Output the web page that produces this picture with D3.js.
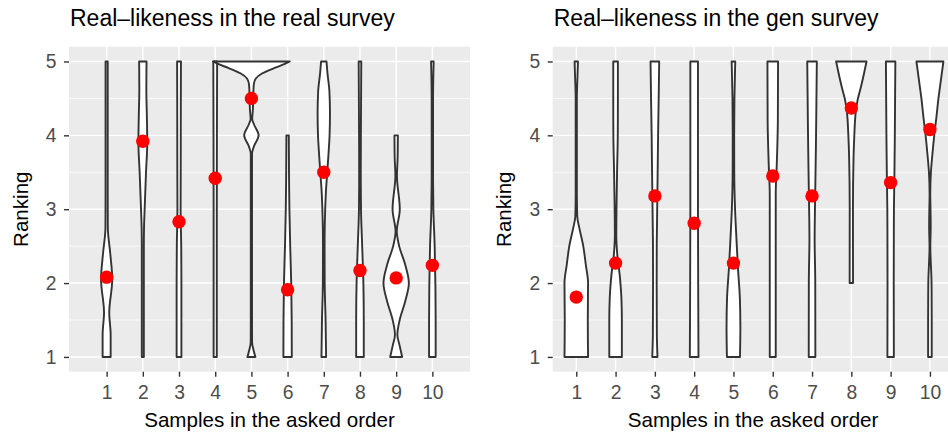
<!DOCTYPE html>
<html>
<head>
<meta charset="utf-8">
<script src="https://cdn.jsdelivr.net/npm/d3@7"></script>
<style>
  body { margin: 0; background: #fff; }
  svg { display: block; }
  text { font-family: "Liberation Sans", Arial, Helvetica, sans-serif; }
</style>
</head>
<body>
<svg id="chart" width="948" height="434"></svg>
<script>
// Sample positions and rating scale
const samples = [1, 2, 3, 4, 5, 6, 7, 8, 9, 10];
const rankTicks = [1, 2, 3, 4, 5];
const rankMinor = [1.5, 2.5, 3.5, 4.5];

// Mean ranking per sample
const realMeans = [2.08, 3.92, 2.83, 3.42, 4.50, 1.91, 3.50, 2.17, 2.07, 2.24];
const genMeans  = [1.81, 2.27, 3.18, 2.81, 2.27, 3.45, 3.18, 4.37, 3.36, 4.08];

// Violin outlines: [ranking, half-width in sample-step units]
const realShapes = [
  [[1,0.111],[1.3,0.111],[1.6,0.072],[2.05,0.155],[2.4,0.1],[2.75,0.033],[3.2,0.03],[5,0.03]],
  [[1,0.028],[2.5,0.028],[2.75,0.033],[3,0.05],[3.5,0.088],[3.9,0.122],[4.3,0.11],[4.6,0.097],[5,0.102]],
  [[1,0.066],[2,0.066],[2.5,0.061],[3,0.044],[3.5,0.047],[4.5,0.05],[5,0.053]],
  [[1,0.044],[3,0.044],[4,0.047],[5,0.053]],
  [[1,0.111],[1.1,0.055],[1.2,0.019],[1.5,0.017],[3.75,0.017],[3.85,0.069],[4,0.2],[4.15,0.069],[4.22,0.022],
   [4.35,0.041],[4.6,0.055],[4.7,0.069],[4.77,0.122],[4.84,0.304],[4.91,0.627],[4.97,0.94],[5,1.06]],
  [[1,0.116],[1.5,0.113],[2,0.1],[2.5,0.072],[3,0.05],[3.5,0.039],[4,0.033]],
  [[1,0.064],[1.5,0.05],[2,0.025],[2.5,0.022],[2.8,0.028],[3.2,0.055],[3.6,0.11],[4,0.16],[4.3,0.171],
   [4.6,0.155],[4.85,0.1],[5,0.075]],
  [[1,0.105],[1.5,0.105],[2,0.094],[2.5,0.061],[3,0.028],[3.5,0.022],[4,0.025],[5,0.036]],
  [[1,0.166],[1.15,0.097],[1.3,0.033],[1.5,0.097],[1.75,0.249],[2,0.351],[2.25,0.249],[2.5,0.083],
   [2.7,0.017],[3,0.1],[3.45,0.022],[3.7,0.041],[4,0.047]],
  [[1,0.091],[1.5,0.091],[2,0.083],[2.5,0.064],[3,0.028],[3.5,0.019],[4.5,0.019],[5,0.036]]
];
const genShapes = [
  [[1,0.3],[1.5,0.293],[2,0.3],[2.25,0.242],[2.5,0.178],[2.75,0.076],[2.9,0.025],[3.2,0.015],[4.5,0.015],
   [4.75,0.028],[5,0.043]],
  [[1,0.16],[1.5,0.16],[1.8,0.148],[2.1,0.107],[2.4,0.041],[2.65,0.018],[3,0.023],[3.5,0.038],[4,0.056],
   [4.5,0.059],[5,0.059]],
  [[1,0.066],[1.3,0.051],[2,0.046],[2.5,0.048],[3,0.059],[3.5,0.071],[4,0.082],[4.5,0.097],[5,0.11]],
  [[1,0.11],[2,0.102],[3,0.097],[4,0.097],[5,0.097]],
  [[1,0.166],[1.4,0.176],[1.8,0.163],[2.2,0.115],[2.6,0.076],[3,0.041],[3.5,0.02],[4,0.018],[4.5,0.025],
   [5,0.046]],
  [[1,0.076],[3.2,0.076],[3.6,0.102],[4.2,0.13],[5,0.135]],
  [[1,0.084],[2,0.082],[2.6,0.066],[3,0.074],[3.5,0.089],[4,0.102],[4.5,0.112],[5,0.122]],
  [[2,0.043],[3,0.041],[3.7,0.056],[4,0.076],[4.3,0.11],[4.48,0.16],[4.66,0.247],[4.84,0.324],[5,0.387]],
  [[1,0.082],[2,0.079],[3,0.084],[3.5,0.097],[4,0.107],[5,0.12]],
  [[1,0.046],[1.5,0.046],[2,0.041],[2.5,0.01],[2.75,0.02],[3,0.015],[3.2,0.008],[3.5,0.025],[3.75,0.064],
   [4,0.11],[4.25,0.166],[4.5,0.217],[4.75,0.28],[5,0.344]]
];

const panels = [
  { title: "Real\u2013likeness in the real survey", means: realMeans, shapes: realShapes,
    left: 69, right: 470, padding: 1.04, yTitleX: 27.5 },
  { title: "Real\u2013likeness in the gen survey", means: genMeans, shapes: genShapes,
    left: 552.7, right: 953.5, padding: 0.6, yTitleX: 511 }
];

const panelTop = 46.7, panelBottom = 371.7;
const svg = d3.select("#chart");

const y = d3.scaleLinear().domain([0.8, 5.2]).range([panelBottom, panelTop]);

panels.forEach(p => {
  const x = d3.scalePoint().domain(samples).range([p.left, p.right]).padding(p.padding);
  const step = x.step();
  const g = svg.append("g");

  // panel background
  g.append("rect")
    .attr("x", p.left).attr("y", panelTop)
    .attr("width", p.right - p.left).attr("height", panelBottom - panelTop)
    .attr("fill", "#EBEBEB");

  // grid
  g.append("g").selectAll("line").data(rankMinor).join("line")
    .attr("x1", p.left).attr("x2", p.right)
    .attr("y1", d => y(d)).attr("y2", d => y(d))
    .attr("stroke", "#fff").attr("stroke-width", 0.7);
  g.append("g").selectAll("line").data(rankTicks).join("line")
    .attr("x1", p.left).attr("x2", p.right)
    .attr("y1", d => y(d)).attr("y2", d => y(d))
    .attr("stroke", "#fff").attr("stroke-width", 1.4);
  g.append("g").selectAll("line").data(samples).join("line")
    .attr("x1", d => x(d)).attr("x2", d => x(d))
    .attr("y1", panelTop).attr("y2", panelBottom)
    .attr("stroke", "#fff").attr("stroke-width", 1.4);

  // violins
  p.shapes.forEach((shape, i) => {
    const cx = x(samples[i]);
    const pts = shape.slice().sort((a, b) => b[0] - a[0]);
    const area = d3.area()
      .y(d => y(d[0]))
      .x0(d => cx - d[1] * step)
      .x1(d => cx + d[1] * step)
      .curve(d3.curveMonotoneY);
    g.append("path")
      .attr("d", area(pts))
      .attr("fill", "#fff")
      .attr("stroke", "#333333")
      .attr("stroke-width", 1.9)
      .attr("stroke-linejoin", "round");
  });

  // means
  g.append("g").selectAll("circle").data(p.means).join("circle")
    .attr("cx", (d, i) => x(samples[i]))
    .attr("cy", d => y(d))
    .attr("r", 6.7)
    .attr("fill", "#FF0000");

  // axes
  const yAxis = d3.axisLeft(y).tickValues(rankTicks).tickFormat(d3.format("d"))
    .tickSize(5).tickPadding(7.5);
  const ya = g.append("g").attr("transform", `translate(${p.left},0)`).call(yAxis);
  const xAxis = d3.axisBottom(x).tickSize(5).tickPadding(8.5);
  const xa = g.append("g").attr("transform", `translate(0,${panelBottom})`).call(xAxis);
  [ya, xa].forEach(a => {
    a.select(".domain").remove();
    a.selectAll(".tick line").attr("stroke", "#333333").attr("stroke-width", 1.4);
    a.selectAll(".tick text").attr("fill", "#4D4D4D").style("font-size", "19.3px")
      .style("font-family", '"Liberation Sans", Arial, sans-serif');
  });

  // titles
  g.append("text")
    .attr("x", p.left + 1).attr("y", 26)
    .style("font-size", "23px").attr("fill", "#000")
    .text(p.title);
  g.append("text")
    .attr("x", (p.left + p.right) / 2).attr("y", 426.7)
    .attr("text-anchor", "middle")
    .style("font-size", "20.6px").attr("fill", "#000")
    .text("Samples in the asked order");
  g.append("text")
    .attr("transform", `translate(${p.yTitleX},${(panelTop + panelBottom) / 2}) rotate(-90)`)
    .attr("text-anchor", "middle")
    .style("font-size", "20.6px").attr("fill", "#000")
    .text("Ranking");
});
</script>
</body>
</html>
